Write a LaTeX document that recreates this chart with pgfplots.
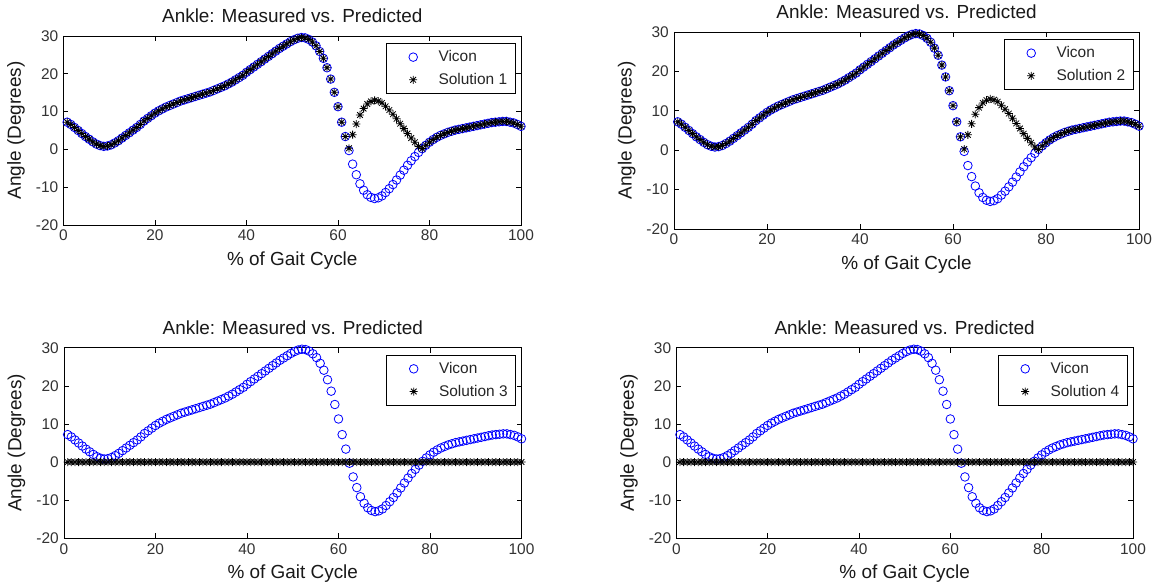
\documentclass[border=0pt]{standalone}
\usepackage{fontspec}
\setmainfont{Liberation Sans}
\usepackage{pgfplots}
\pgfplotsset{compat=1.18}
\usepackage{pgfplotstable}

\pgfdeclareplotmark{mstar}{%
 \pgfpathmoveto{\pgfqpoint{-\pgfplotmarksize}{0pt}}\pgfpathlineto{\pgfqpoint{\pgfplotmarksize}{0pt}}%
 \pgfpathmoveto{\pgfqpoint{0pt}{-\pgfplotmarksize}}\pgfpathlineto{\pgfqpoint{0pt}{\pgfplotmarksize}}%
 \pgfpathmoveto{\pgfqpoint{-0.7071\pgfplotmarksize}{-0.7071\pgfplotmarksize}}\pgfpathlineto{\pgfqpoint{0.7071\pgfplotmarksize}{0.7071\pgfplotmarksize}}%
 \pgfpathmoveto{\pgfqpoint{-0.7071\pgfplotmarksize}{0.7071\pgfplotmarksize}}\pgfpathlineto{\pgfqpoint{0.7071\pgfplotmarksize}{-0.7071\pgfplotmarksize}}%
 \pgfusepathqstroke}

\pgfplotstableread{
x v s z
0.8 7.2 7.2 0
1.6 6.6 6.6 0
2.4 5.8 5.8 0
3.2 5.0 5.0 0
4.0 4.2 4.2 0
4.8 3.4 3.4 0
5.6 2.7 2.7 0
6.4 2.0 2.0 0
7.2 1.4 1.4 0
8.0 1.0 1.0 0
8.8 0.8 0.8 0
9.6 0.9 0.9 0
10.4 1.2 1.2 0
11.2 1.7 1.7 0
12.0 2.3 2.3 0
12.8 3.0 3.0 0
13.6 3.7 3.7 0
14.4 4.4 4.4 0
15.2 5.1 5.1 0
16.0 5.8 5.8 0
16.8 6.6 6.6 0
17.6 7.5 7.5 0
18.4 8.2 8.2 0
19.2 8.9 8.9 0
20.0 9.6 9.6 0
20.8 10.2 10.2 0
21.6 10.7 10.7 0
22.4 11.2 11.2 0
23.2 11.6 11.6 0
24.0 12.0 12.0 0
24.8 12.4 12.4 0
25.6 12.8 12.8 0
26.4 13.1 13.1 0
27.2 13.4 13.4 0
28.0 13.7 13.7 0
28.8 14.0 14.0 0
29.6 14.3 14.3 0
30.4 14.6 14.6 0
31.2 14.9 14.9 0
32.0 15.2 15.2 0
32.8 15.6 15.6 0
33.6 16.0 16.0 0
34.4 16.4 16.4 0
35.2 16.8 16.8 0
36.0 17.3 17.3 0
36.8 17.8 17.8 0
37.6 18.4 18.4 0
38.4 19.0 19.0 0
39.2 19.6 19.6 0
40.0 20.4 20.4 0
40.8 21.1 21.1 0
41.6 21.8 21.8 0
42.4 22.5 22.5 0
43.2 23.2 23.2 0
44.0 23.9 23.9 0
44.8 24.6 24.6 0
45.6 25.3 25.3 0
46.4 26.0 26.0 0
47.2 26.7 26.7 0
48.0 27.3 27.3 0
48.8 27.9 27.9 0
49.6 28.5 28.5 0
50.4 29.0 29.0 0
51.2 29.4 29.4 0
52.0 29.6 29.6 0
52.8 29.5 29.5 0
53.6 29.1 29.1 0
54.4 28.4 28.4 0
55.2 27.4 27.4 0
56.0 25.9 25.9 0
56.8 24.1 24.1 0
57.6 21.6 21.6 0
58.4 18.6 18.6 0
59.2 15.1 15.1 0
60.0 11.3 11.3 0
60.8 7.2 7.2 0
61.6 3.4 3.4 0
62.4 -0.3 0.3 0
63.2 -3.9 3.9 0
64.0 -6.7 6.7 0
64.8 -9.1 9.1 0
65.6 -10.8 10.8 0
66.4 -12.0 12.0 0
67.2 -12.7 12.7 0
68.0 -13.0 13.0 0
68.8 -12.8 12.8 0
69.6 -12.3 12.3 0
70.4 -11.4 11.4 0
71.2 -10.4 10.4 0
72.0 -9.3 9.3 0
72.8 -8.1 8.1 0
73.6 -6.8 6.8 0
74.4 -5.5 5.5 0
75.2 -4.2 4.2 0
76.0 -3.0 3.0 0
76.8 -1.9 1.9 0
77.6 -0.8 0.8 0
78.4 0.2 0.2 0
79.2 1.1 1.1 0
80.0 1.9 1.9 0
80.8 2.6 2.6 0
81.6 3.2 3.2 0
82.4 3.7 3.7 0
83.2 4.1 4.1 0
84.0 4.5 4.5 0
84.8 4.8 4.8 0
85.6 5.1 5.1 0
86.4 5.3 5.3 0
87.2 5.5 5.5 0
88.0 5.7 5.7 0
88.8 5.9 5.9 0
89.6 6.1 6.1 0
90.4 6.3 6.3 0
91.2 6.5 6.5 0
92.0 6.7 6.7 0
92.8 6.9 6.9 0
93.6 7.1 7.1 0
94.4 7.2 7.2 0
95.2 7.3 7.3 0
96.0 7.4 7.4 0
96.8 7.4 7.4 0
97.6 7.2 7.2 0
98.4 7.0 7.0 0
99.2 6.6 6.6 0
100.0 6.1 6.1 0
}\gait

\pgfplotsset{
 gaitax/.style={
  scale only axis,
  xmin=0, xmax=100, ymin=-20, ymax=30,
  xtick={0,20,...,100}, ytick={-20,-10,...,30},
  tick align=inside, tick pos=both,
  major tick length=5bp,
  axis line style={black, line width=0.7bp},
  tick style={black, line width=0.6bp},
  tick label style={font=\fontsize{15.5}{18}\selectfont, text=black!80},
  /pgf/number format/assume math mode=true,
  xticklabel style={inner sep=0bp, yshift=-5bp},
  yticklabel style={inner sep=0bp, xshift=-5bp},
  scaled ticks=false,
  clip=false,
  title={Ankle: Measured vs. Predicted},
  xlabel={\% of Gait Cycle},
  ylabel={Angle (Degrees)},
  every axis title/.style={at={(axis description cs:0.5,1)}, anchor=base, yshift=13bp, font=\fontsize{19}{22}\selectfont, text=black!90},
  every axis x label/.style={at={(axis description cs:0.5,0)}, anchor=base, yshift=-40.5bp, font=\fontsize{19}{22}\selectfont, text=black!90},
  every axis y label/.style={at={(axis description cs:0,0.5)}, xshift=-42.5bp, rotate=90, anchor=base, font=\fontsize{19}{22}\selectfont, text=black!90},
  legend cell align=left,
  legend style={at={(axis description cs:1,1)}, anchor=north east, xshift=-5.5bp, yshift=-7bp,
    draw=black, line width=0.6bp, fill=white, inner xsep=3bp, inner ysep=2.5bp,
    font=\fontsize{15.5}{18}\selectfont, row sep=0bp, nodes={inner xsep=5bp, inner ysep=5bp, text=black!85}},
  legend image code/.code={\path (0bp,0bp) (44bp,0bp); \draw[##1] plot coordinates {(24bp,0bp)};},
 },
 vicon/.style={only marks, mark=o, mark size=4.3bp, color={rgb,255:red,0;green,0;blue,255}, mark options={line width=0.8bp}},
 sol/.style={only marks, mark=mstar, mark size=4bp, color=black, mark options={line width=0.8bp}},
}

\begin{document}
\begin{tikzpicture}
\fill[white] (0,0) rectangle (1158bp,586bp);
\useasboundingbox (0,0) rectangle (1158bp,586bp);

\begin{axis}[gaitax, at={(63.5bp,361bp)}, anchor=south west, width=457.5bp, height=189bp]
\addplot[vicon] table[x=x, y=v] {\gait};
\addlegendentry{Vicon}
\addplot[sol] table[x=x, y=s] {\gait};
\addlegendentry{Solution 1}
\end{axis}

\begin{axis}[gaitax, at={(674bp,357bp)}, anchor=south west, width=465bp, height=197bp]
\addplot[vicon] table[x=x, y=v] {\gait};
\addlegendentry{Vicon}
\addplot[sol] table[x=x, y=s] {\gait};
\addlegendentry{Solution 2}
\end{axis}

\begin{axis}[gaitax, at={(64bp,47.7bp)}, anchor=south west, width=457.5bp, height=190.6bp]
\addplot[vicon] table[x=x, y=v] {\gait};
\addlegendentry{Vicon}
\addplot[sol] table[x=x, y=z] {\gait};
\addlegendentry{Solution 3}
\end{axis}

\begin{axis}[gaitax, at={(676.3bp,47.7bp)}, anchor=south west, width=456.7bp, height=190.6bp]
\addplot[vicon] table[x=x, y=v] {\gait};
\addlegendentry{Vicon}
\addplot[sol] table[x=x, y=z] {\gait};
\addlegendentry{Solution 4}
\end{axis}
\end{tikzpicture}
\end{document}
